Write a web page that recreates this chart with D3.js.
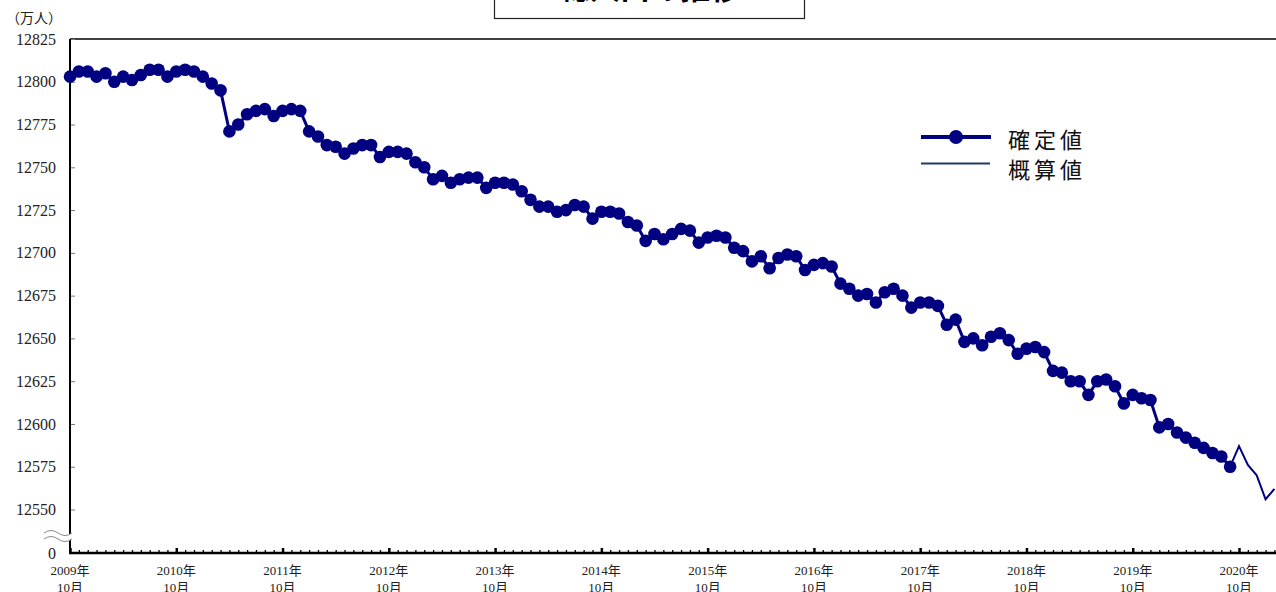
<!DOCTYPE html>
<html>
<head>
<meta charset="utf-8">
<script src="https://cdn.jsdelivr.net/npm/d3@7"></script>
<style>
body { margin: 0; background: #fff; }
svg { display: block; }
.serif { font-family: "Liberation Serif", "Noto Sans CJK JP", serif; fill: #222; }
</style>
</head>
<body>
<div id="chart"></div>
<script>
// month index 0 = 2009年10月
var years = ["2009年", "2010年", "2011年", "2012年", "2013年", "2014年", "2015年", "2016年", "2017年", "2018年", "2019年", "2020年"]
var yTicks = [12550, 12575, 12600, 12625, 12650, 12675, 12700, 12725, 12750, 12775, 12800, 12825]
// 確定値 (monthly, from 2009年10月)
var confirmed = [12803, 12806, 12806, 12803, 12805, 12800, 12803, 12801, 12804, 12807, 12807, 12803,
    12806, 12807, 12806, 12803, 12799, 12795, 12771, 12775, 12781, 12783, 12784, 12780,
    12783, 12784, 12783, 12771, 12768, 12763, 12762, 12758, 12761, 12763, 12763, 12756,
    12759, 12759, 12758, 12753, 12750, 12743, 12745, 12741, 12743, 12744, 12744, 12738,
    12741, 12741, 12740, 12736, 12731, 12727, 12727, 12724, 12725, 12728, 12727, 12720,
    12724, 12724, 12723, 12718, 12716, 12707, 12711, 12708, 12711, 12714, 12713, 12706,
    12709, 12710, 12709, 12703, 12701, 12695, 12698, 12691, 12697, 12699, 12698, 12690,
    12693, 12694, 12692, 12682, 12679, 12675, 12676, 12671, 12677, 12679, 12675, 12668,
    12671, 12671, 12669, 12658, 12661, 12648, 12650, 12646, 12651, 12653, 12649, 12641,
    12644, 12645, 12642, 12631, 12630, 12625, 12625, 12617, 12625, 12626, 12622, 12612,
    12617, 12615, 12614, 12598, 12600, 12595, 12592, 12589, 12586, 12583, 12581, 12575]
// 概算値 starts at the last confirmed month
var provisionalStart = 131
var provisional = [12575, 12587, 12576, 12570, 12556, 12562]

var svg = d3.select("#chart").append("svg").attr("width", 1276).attr("height", 592)

var x = d3.scaleLinear().domain([0, 132]).range([70, 1239])
var y = d3.scaleLinear().domain([12550, 12825]).range([509.5, 39])
var baseY = 553
var navy = "#000080"

// title box (mostly above the picture)
svg.append("rect").attr("x", 494.5).attr("y", -30).attr("width", 310).attr("height", 48.5)
    .attr("fill", "#fff").attr("stroke", "#222").attr("stroke-width", 1.2)
svg.append("text").attr("x", 650).attr("y", -1.5).attr("text-anchor", "middle")
    .style("font-family", "Noto Sans CJK JP").style("font-size", "30px").style("font-weight", "bold")
    .text("総人口の推移")

// unit
svg.append("text").attr("class", "serif").attr("x", 6).attr("y", 23)
    .style("font-size", "14px").text("（万人）")

// top border
svg.append("line").attr("x1", 70).attr("x2", 1290).attr("y1", 39).attr("y2", 39)
    .attr("stroke", "#000").attr("stroke-width", 1.5)

// y axis
var yAxis = d3.axisLeft(y).tickValues(yTicks).tickSizeInner(-5).tickSizeOuter(0).tickPadding(14)
    .tickFormat(function(d) { return d })
var gy = svg.append("g").attr("transform", "translate(70,0)").call(yAxis)
gy.select(".domain").remove()
gy.selectAll(".tick line").attr("stroke", "#777")
gy.selectAll(".tick text").attr("class", "serif").style("font-size", "16px")

svg.append("line").attr("x1", 70).attr("x2", 70).attr("y1", 39).attr("y2", baseY)
    .attr("stroke", "#000").attr("stroke-width", 2)
svg.append("text").attr("class", "serif").attr("x", 56).attr("y", baseY).attr("dy", "0.35em")
    .attr("text-anchor", "end").style("font-size", "16px").text("0")

// axis break
svg.append("path").attr("d", "M44,533 q7,-5 14,0 t14,0 l0,6 q-7,5 -14,0 t-14,0 z")
    .attr("fill", "#fff").attr("stroke", "none")
svg.append("path").attr("d", "M44,533 q7,-5 14,0 t14,0").attr("fill", "none").attr("stroke", "#888").attr("stroke-width", 1)
svg.append("path").attr("d", "M44,539 q7,-5 14,0 t14,0").attr("fill", "none").attr("stroke", "#888").attr("stroke-width", 1)

// x axis: monthly ticks, years marked in October
var xAxis = d3.axisBottom(x).tickValues(d3.range(0, 138)).tickSizeInner(-3).tickSizeOuter(0).tickFormat("")
var gx = svg.append("g").attr("transform", "translate(0," + baseY + ")").call(xAxis)
gx.select(".domain").remove()
gx.selectAll(".tick line").attr("stroke", "#000")
    .attr("y2", function(d) { return d % 12 == 0 ? -5 : -3 })
    .attr("stroke-width", function(d) { return d % 12 == 0 ? 2.5 : 1.3 })
svg.append("line").attr("x1", 69).attr("x2", 1290).attr("y1", baseY).attr("y2", baseY)
    .attr("stroke", "#000").attr("stroke-width", 2.5)

var yearLabels = svg.selectAll(".year").data(years).enter().append("text")
    .attr("class", "serif").attr("text-anchor", "middle").style("font-size", "13px")
    .attr("transform", function(d, i) { return "translate(" + x(i * 12) + ",0)" })
yearLabels.append("tspan").attr("x", 0).attr("y", 575).text(function(d) { return d })
yearLabels.append("tspan").attr("x", 0).attr("y", 592).text("10月")

// lines
var line = d3.line().x(function(d) { return x(d.i) }).y(function(d) { return y(d.v) })
var confData = confirmed.map(function(v, i) { return { i: i, v: v } })
var provData = provisional.map(function(v, i) { return { i: provisionalStart + i, v: v } })

svg.append("path").datum(provData).attr("d", line)
    .attr("fill", "none").attr("stroke", navy).attr("stroke-width", 2)
svg.append("path").datum(confData).attr("d", line)
    .attr("fill", "none").attr("stroke", navy).attr("stroke-width", 3)
svg.selectAll(".dot").data(confData).enter().append("circle")
    .attr("cx", function(d) { return x(d.i) })
    .attr("cy", function(d) { return y(d.v) })
    .attr("r", 6.3).attr("fill", navy)

// legend
var legend = svg.append("g").attr("transform", "translate(921,0)")
legend.append("line").attr("x1", 0).attr("x2", 70).attr("y1", 137).attr("y2", 137)
    .attr("stroke", navy).attr("stroke-width", 4)
legend.append("circle").attr("cx", 35).attr("cy", 137).attr("r", 7).attr("fill", navy)
legend.append("line").attr("x1", 0).attr("x2", 69).attr("y1", 163.5).attr("y2", 163.5)
    .attr("stroke", "#1f3864").attr("stroke-width", 2)
legend.selectAll(".lab").data(["確定値", "概算値"]).enter().append("text")
    .attr("x", 87).attr("y", function(d, i) { return 140 + i * 30 }).attr("dy", "0.35em")
    .style("font-family", "Noto Sans CJK JP").style("font-size", "22px").style("letter-spacing", "4px")
    .attr("fill", "#111").text(function(d) { return d })
</script>
</body>
</html>
